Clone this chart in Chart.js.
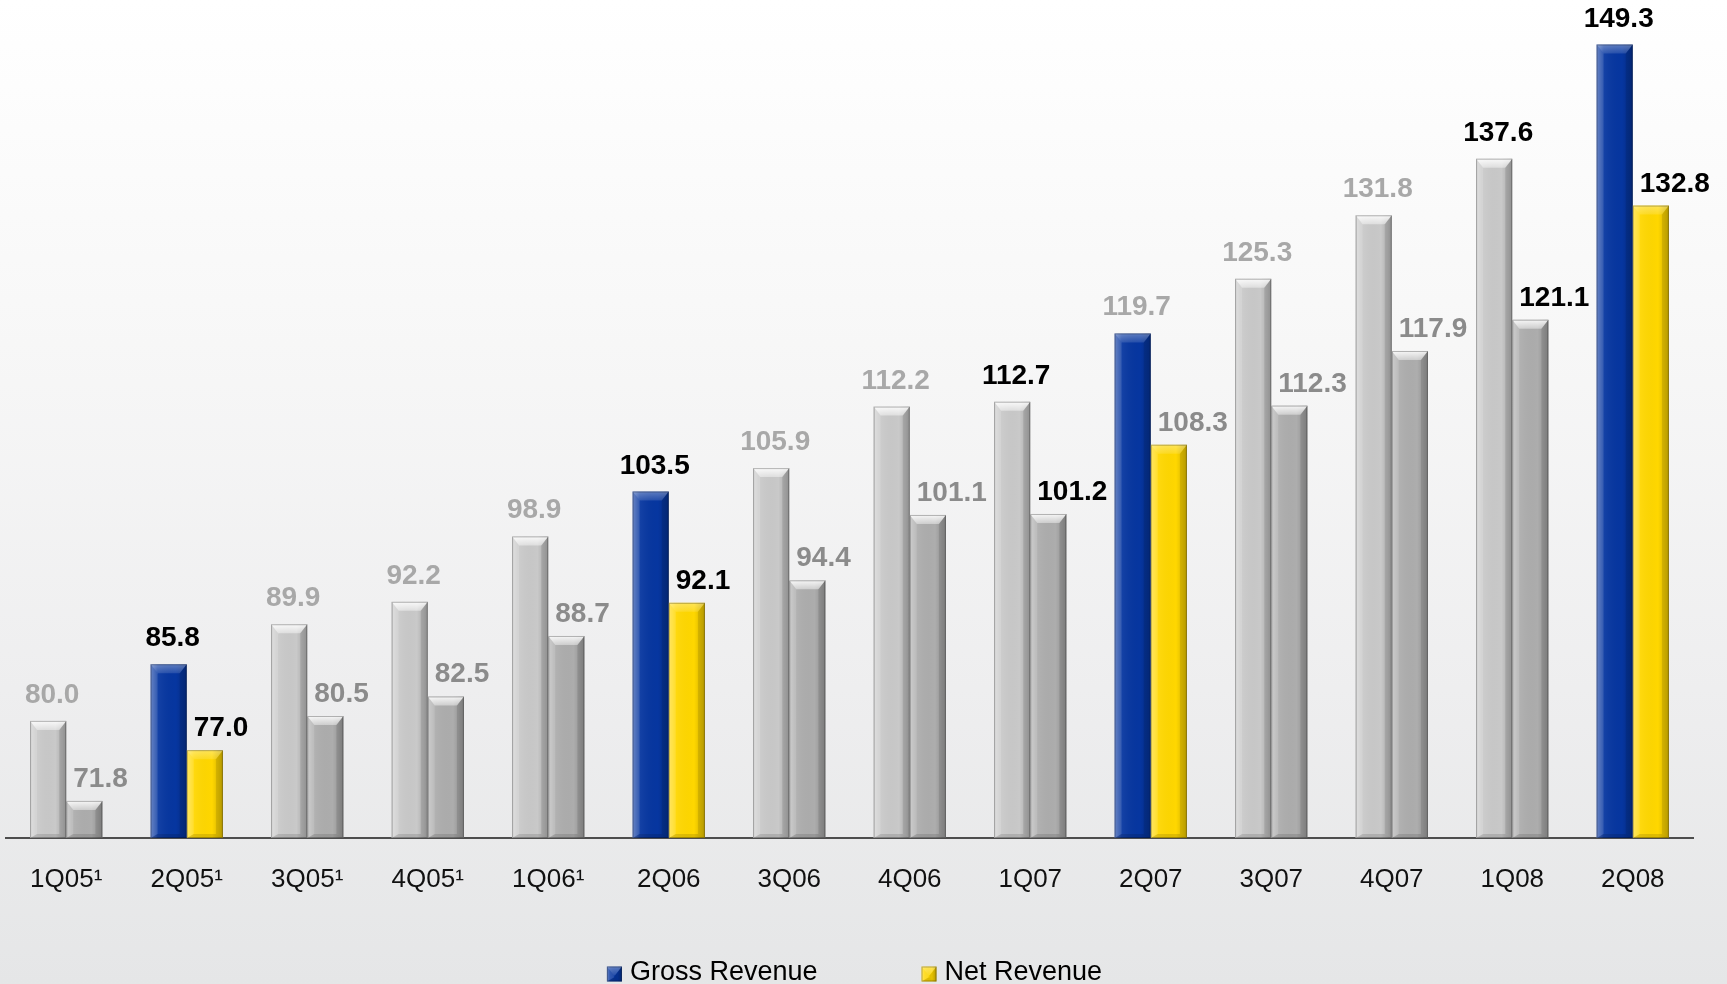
<!DOCTYPE html>
<html>
<head>
<meta charset="utf-8">
<script src="https://cdn.jsdelivr.net/npm/chart.js@4.4.1/dist/chart.umd.min.js"></script>
<style>
html,body{margin:0;padding:0;overflow:hidden;width:1727px;height:984px;
  background:linear-gradient(to bottom,#ffffff 0%,#f7f7f7 35%,#eeeeef 70%,#e5e6e7 100%);}
#wrap{position:absolute;left:0;top:0;width:1727px;height:984px;}
</style>
</head>
<body>
<div id="wrap"><canvas id="c"></canvas></div>
<script>
const categories = ['1Q05¹','2Q05¹','3Q05¹','4Q05¹','1Q06¹','2Q06','3Q06','4Q06','1Q07','2Q07','3Q07','4Q07','1Q08','2Q08'];
const grossRevenue = [80.0,85.8,89.9,92.2,98.9,103.5,105.9,112.2,112.7,119.7,125.3,131.8,137.6,149.3];
const netRevenue   = [71.8,77.0,80.5,82.5,88.7,92.1,94.4,101.1,101.2,108.3,112.3,117.9,121.1,132.8];
const seriesNames = ['Gross Revenue','Net Revenue'];
const highlightIdx = [1,5,9,13];
const darkLabelIdx = [1,5,8,12,13];

const FONT = '"Liberation Sans", Arial, Helvetica, sans-serif';
const BLUE = '#0636a0', YELLOW = '#ffd700';
const GRAY1 = '#c9c9c9', GRAY2 = '#adadad';

function bevel(ctx, L, R, T, B, hl, baseColor){
  const w = R-L, h = 9, s = 7;
  const g = ctx.createLinearGradient(L,0,R,0);
  g.addColorStop(0,'rgba(255,255,255,0.30)');
  g.addColorStop(0.2,'rgba(255,255,255,0.06)');
  g.addColorStop(0.7,'rgba(0,0,0,0)');
  g.addColorStop(1,'rgba(0,0,0,0.20)');
  ctx.fillStyle = g;
  ctx.fillRect(L,T,w,B-T);
  ctx.fillStyle = 'rgba(255,255,255,0.12)';
  ctx.beginPath();ctx.moveTo(L,T);ctx.lineTo(L+s,T+h);ctx.lineTo(L+s,B-4);ctx.lineTo(L,B);ctx.closePath();ctx.fill();
  ctx.fillStyle = 'rgba(0,0,0,0.10)';
  ctx.beginPath();ctx.moveTo(R,T);ctx.lineTo(R-s,T+h);ctx.lineTo(R-s,B-4);ctx.lineTo(R,B);ctx.closePath();ctx.fill();
  const tg = ctx.createLinearGradient(0,T,0,T+h);
  tg.addColorStop(0, hl ? 'rgba(255,255,255,0.35)' : 'rgba(255,255,255,0.9)');
  tg.addColorStop(1, hl ? 'rgba(255,255,255,0.12)' : 'rgba(255,255,255,0.4)');
  ctx.fillStyle = tg;
  ctx.beginPath();ctx.moveTo(L,T);ctx.lineTo(R,T);ctx.lineTo(R-s,T+h);ctx.lineTo(L+s,T+h);ctx.closePath();ctx.fill();
  ctx.fillStyle = 'rgba(0,0,0,0.12)';
  ctx.beginPath();ctx.moveTo(L,B);ctx.lineTo(R,B);ctx.lineTo(R-s,B-4);ctx.lineTo(L+s,B-4);ctx.closePath();ctx.fill();
  ctx.strokeStyle = 'rgba(0,0,0,0.28)';
  ctx.lineWidth = 1;
  ctx.strokeRect(L+0.5,T+0.5,w-1,B-T-1);
}

const barStyle = {
  id:'barStyle',
  afterDatasetsDraw(chart){
    const ctx = chart.ctx;
    const bottom = chart.chartArea.bottom;
    ctx.save();
    chart.data.datasets.forEach((ds,di)=>{
      const meta = chart.getDatasetMeta(di);
      meta.data.forEach((bar,i)=>{
        bevel(ctx, bar.x - bar.width/2, bar.x + bar.width/2, bar.y, Math.min(bar.base, bottom), highlightIdx.includes(i));
      });
    });
    ctx.font = 'bold 28px ' + FONT;
    ctx.textBaseline = 'alphabetic';
    chart.data.datasets.forEach((ds,di)=>{
      const meta = chart.getDatasetMeta(di);
      meta.data.forEach((bar,i)=>{
        const txt = ds.data[i].toFixed(1);
        const dark = darkLabelIdx.includes(i);
        ctx.fillStyle = dark ? '#000000' : (di===0 ? '#a8a8a8' : '#8b8b8b');
        if (di===0){
          ctx.textAlign = 'center';
          ctx.fillText(txt, bar.x + 4, bar.y - 18);
        } else {
          ctx.textAlign = 'left';
          ctx.fillText(txt, bar.x - bar.width/2 + 7, bar.y - 14);
        }
      });
    });
    ctx.restore();
  },
  afterDraw(chart){
    // legend
    const ctx = chart.ctx;
    const items = [{text:seriesNames[0], color:BLUE, edge:'#00185e'},{text:seriesNames[1], color:YELLOW, edge:'#9a8400'}];
    ctx.save();
    ctx.font = '27px ' + FONT;
    const box = 15, tgap = 8, igap = 104;
    const widths = items.map(it => ctx.measureText(it.text).width);
    const total = items.reduce((a,it,k)=>a + box + tgap + widths[k], 0) + igap*(items.length-1);
    const ca = chart.chartArea;
    let x = (ca.left + ca.right)/2 + 5 - total/2;
    const yc = 973;
    ctx.textBaseline = 'middle';
    ctx.textAlign = 'left';
    items.forEach((it,k)=>{
      ctx.fillStyle = it.color;
      ctx.fillRect(x, yc - box/2 + 1, box, box);
      bevel(ctx, x, x+box, yc - box/2 + 1, yc + box/2 + 1, true);
      ctx.fillStyle = '#000';
      ctx.fillText(it.text, x + box + tgap, yc);
      x += box + tgap + widths[k] + igap;
    });
    ctx.restore();
  }
};

new Chart(document.getElementById('c'), {
  type:'bar',
  data:{
    labels: categories,
    datasets:[
      {label:seriesNames[0], data:grossRevenue,
       backgroundColor: c => highlightIdx.includes(c.dataIndex) ? BLUE : GRAY1,
       borderWidth:0, categoryPercentage:0.6, barPercentage:1.0},
      {label:seriesNames[1], data:netRevenue,
       backgroundColor: c => highlightIdx.includes(c.dataIndex) ? YELLOW : GRAY2,
       borderWidth:0, categoryPercentage:0.6, barPercentage:1.0}
    ]
  },
  options:{
    responsive:true, maintainAspectRatio:false, animation:false,
    layout:{padding:{left:6,right:34,top:0,bottom:76}},
    plugins:{
      tooltip:{enabled:false},
      legend:{display:false}
    },
    scales:{
      x:{
        grid:{display:false, drawTicks:false},
        border:{display:true, color:'#4d4d4d', width:2},
        ticks:{font:{family:FONT,size:26}, color:'#111', padding:26, maxRotation:0, autoSkip:false},
        afterFit: s => { s.height = 70; }
      },
      y:{display:false, min:68, max:153.86}
    }
  },
  plugins:[barStyle]
});
</script>
</body>
</html>
